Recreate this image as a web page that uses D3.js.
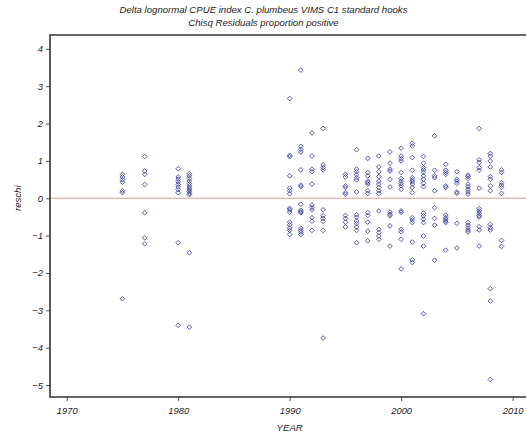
<!DOCTYPE html>
<html>
<head>
<meta charset="utf-8">
<script src="https://cdn.jsdelivr.net/npm/d3@7"></script>
<style>
  html, body { margin: 0; padding: 0; background: #fff; }
  svg text { font-family: "Liberation Sans", Arial, sans-serif; font-style: italic; fill: #222; }
</style>
</head>
<body>
<svg id="chart" width="527" height="439"></svg>
<script>
// Chi-square residuals for the proportion-positive component, by year
const years = [1975, 1977, 1980, 1981, 1990, 1991, 1992, 1993, 1995, 1996, 1997, 1998,
               1999, 2000, 2001, 2002, 2003, 2004, 2005, 2006, 2007, 2008, 2009];

const residuals = [
  [0.64, 0.57, 0.50, 0.43, 0.20, 0.15, -2.69],
  [1.12, 0.73, 0.64, 0.37, -0.39, -1.06, -1.22],
  [0.79, 0.57, 0.51, 0.44, 0.37, 0.30, 0.23, 0.15, -1.19, -3.40],
  [0.66, 0.60, 0.53, 0.46, 0.39, 0.33, 0.27, 0.22, 0.18, 0.13, 0.10, -1.46, -3.45],
  [2.67, 1.15, 1.11, 0.60, 0.27, 0.20, 0.12, -0.27, -0.31, -0.37, -0.64, -0.71, -0.80, -0.86, -0.97],
  [3.43, 1.39, 1.31, 1.24, 0.76, 0.35, 0.31, -0.16, -0.32, -0.36, -0.39, -0.80, -0.86, -0.91, -0.97],
  [1.75, 1.13, 0.78, 0.71, 0.38, -0.18, -0.25, -0.31, -0.52, -0.61, -0.86],
  [1.87, 0.89, 0.82, 0.76, -0.31, -0.47, -0.54, -0.62, -0.86, -3.74],
  [0.64, 0.57, 0.33, 0.29, 0.15, 0.11, -0.46, -0.54, -0.64, -0.77],
  [1.30, 0.78, 0.71, 0.63, 0.55, 0.49, 0.17, -0.44, -0.51, -0.61, -0.68, -0.77, -0.86, -1.19],
  [1.07, 0.69, 0.60, 0.46, 0.42, 0.38, 0.20, 0.13, -0.38, -0.46, -0.64, -0.88, -1.14],
  [1.13, 0.84, 0.71, 0.58, 0.46, 0.38, 0.29, 0.20, 0.13, -0.34, -0.83, -0.92, -1.01, -1.10],
  [1.24, 0.94, 0.78, 0.73, 0.51, 0.30, -0.37, -0.43, -0.47, -0.74, -1.28],
  [1.34, 1.13, 1.06, 1.00, 0.69, 0.53, 0.46, 0.39, 0.33, 0.24, -0.34, -0.38, -0.83, -0.90, -1.10, -1.89],
  [1.47, 1.40, 1.09, 0.75, 0.55, 0.49, 0.44, 0.38, 0.29, 0.15, -0.52, -0.58, -0.65, -1.17, -1.65, -1.72],
  [1.12, 0.94, 0.82, 0.76, 0.69, 0.60, 0.51, 0.40, 0.31, -0.40, -0.47, -0.56, -0.65, -1.01, -1.28, -3.09],
  [1.67, 0.75, 0.60, 0.55, 0.20, -0.25, -0.54, -0.72, -1.66],
  [0.91, 0.75, 0.69, 0.64, 0.33, 0.29, -0.45, -0.52, -0.56, -0.61, -0.65, -1.39],
  [0.71, 0.51, 0.46, 0.40, 0.17, 0.13, -0.67, -1.33],
  [0.62, 0.58, 0.53, 0.38, 0.31, 0.24, 0.17, 0.11, -0.65, -0.72, -0.79, -0.85, -0.90],
  [1.87, 1.03, 0.96, 0.82, 0.75, 0.27, -0.28, -0.34, -0.40, -0.46, -0.50, -0.76, -0.85, -1.28],
  [1.20, 1.13, 1.00, 0.84, 0.58, 0.51, 0.33, 0.20, -0.70, -0.79, -0.85, -2.42, -2.75, -4.85],
  [0.76, 0.69, 0.42, 0.35, 0.29, 0.13, -1.13, -1.29]
];

const xTicks = [1970, 1980, 1990, 2000, 2010];
const yTicks = [4, 3, 2, 1, 0, -1, -2, -3, -4, -5];

const titleLines = [
  "Delta lognormal CPUE index C. plumbeus VIMS C1 standard hooks",
  "Chisq Residuals proportion positive"
];

const points = [];
years.forEach((yr, i) => residuals[i].forEach(v => points.push({ year: yr, value: v })));

const svg = d3.select("#chart");
const W = 527, H = 439;
const plot = { left: 50, right: 526, top: 35, bottom: 397 };

const x = d3.scaleLinear().domain([1968.5, 2011.2]).range([plot.left, plot.right]);
const y = d3.scaleLinear().domain([-5.32, 4.37]).range([plot.bottom, plot.top]);

// Titles
svg.selectAll("text.title")
  .data(titleLines)
  .join("text")
  .attr("class", "title")
  .attr("x", W / 2)
  .attr("y", (d, i) => 13 + i * 13)
  .attr("text-anchor", "middle")
  .attr("font-size", 9.6)
  .text(d => d);

// Reference line at zero
svg.append("line")
  .attr("x1", plot.left).attr("x2", plot.right)
  .attr("y1", y(0)).attr("y2", y(0))
  .attr("stroke", "#d9a090").attr("stroke-width", 1.1);

// Axes
const fmtMinus = d => (d < 0 ? "\u2212" + Math.abs(d) : String(d));

const yAxis = svg.append("g")
  .attr("transform", `translate(${plot.left},0)`)
  .call(d3.axisLeft(y).tickValues(yTicks).tickSize(4).tickPadding(3).tickFormat(fmtMinus));

const xAxis = svg.append("g")
  .attr("transform", `translate(0,${plot.bottom})`)
  .call(d3.axisBottom(x).tickValues(xTicks).tickSize(4).tickPadding(6).tickFormat(d3.format("d")));

[yAxis, xAxis].forEach(g => {
  g.select(".domain").remove();
  g.selectAll(".tick line").attr("stroke", "#555").attr("stroke-width", 1);
  g.selectAll(".tick text")
    .attr("font-size", 9.4)
    .attr("font-family", "\"Liberation Sans\", Arial, sans-serif")
    .attr("font-style", "italic")
    .attr("fill", "#222");
});

// Frame
svg.append("path")
  .attr("d", `M${plot.right},${plot.top}H${plot.left}V${plot.bottom}H${plot.right}`)
  .attr("fill", "none")
  .attr("stroke", "#333")
  .attr("stroke-width", 1.6);

// Axis labels
svg.append("text")
  .attr("x", x(1990))
  .attr("y", 431)
  .attr("text-anchor", "middle")
  .attr("font-size", 9.6)
  .text("YEAR");

svg.append("text")
  .attr("transform", `translate(21,${y(0)}) rotate(-90)`)
  .attr("text-anchor", "middle")
  .attr("font-size", 9.6)
  .text("reschi");

// Residual markers (open diamonds)
const diamond = d3.symbol().type(d3.symbolDiamond2).size(14);
svg.append("g")
  .selectAll("path")
  .data(points)
  .join("path")
  .attr("transform", d => `translate(${x(d.year)},${y(d.value)})`)
  .attr("d", diamond)
  .attr("fill", "none")
  .attr("stroke", "#2e3592")
  .attr("stroke-width", 0.8);
</script>
</body>
</html>
